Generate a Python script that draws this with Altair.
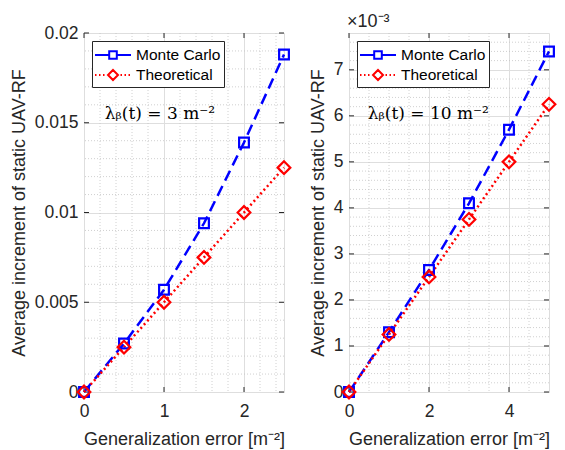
import altair as alt
import pandas as pd

series_names = ["Monte Carlo", "Theoretical"]
series_colors = ["#0000ff", "#ff0000"]

# Left panel: lambda = 3 m^-2
x_left = [0, 0.5, 1, 1.5, 2, 2.5]
mc_left = [0, 0.0027, 0.0057, 0.0094, 0.0139, 0.0188]
th_left = [0, 0.0025, 0.005, 0.0075, 0.01, 0.0125]

# Right panel: lambda = 10 m^-2
x_right = [0, 1, 2, 3, 4, 5]
mc_right = [0, 0.0013, 0.00265, 0.0041, 0.0057, 0.0074]
th_right = [0, 0.00125, 0.0025, 0.00375, 0.005, 0.00625]

left_x_ticks = [0, 1, 2]
left_y_ticks = [0, 0.005, 0.01, 0.015, 0.02]
right_x_ticks = [0, 2, 4]
right_y_ticks = [0, 0.001, 0.002, 0.003, 0.004, 0.005, 0.006, 0.007]

left_domain_x = [0, 2.5]
left_domain_y = [0, 0.02]
right_domain_x = [0, 5]
right_domain_y = [0, 0.0078]

left_note = "λᵦ(t) = 3 m⁻²"
right_note = "λᵦ(t) = 10 m⁻²"
left_note_pos = (0.26, 0.0155)
right_note_pos = (0.47, 0.00603)

x_title = "Generalization error [m⁻²]"
y_title = "Average increment of static UAV-RF"

W, H = 200, 359
FONT = "Liberation Sans"
TXT = "#262626"
FS = 17.5
TFS = 18

MC_PATH = "M-1.1,0H0.32M1.08,0H2.5M0.32,-0.38H1.08V0.38H0.32Z"
TH_PATH = ("M-1.1,0h0.15M-0.7,0h0.15M-0.3,0h0.15"
           "M1.45,0h0.15M1.85,0h0.15M2.25,0h0.15"
           "M0.7,-0.5L1.2,0L0.7,0.5L0.2,0Z")


def minor_vals(step, top, majors):
    n = int(round(top / step))
    vals = [round(i * step, 8) for i in range(1, n + 1)]
    return [v for v in vals if all(abs(v - m) > 1e-9 for m in majors) and v < top - 1e-9]


def panel(xs, mc, th, dom_x, dom_y, xt, yt, xstep, ystep, note, note_pos, scale_exp, title_text):
    df = pd.DataFrame({
        "x": xs + xs,
        "y": mc + th,
        "series": [series_names[0]] * len(xs) + [series_names[1]] * len(xs),
    })
    xscale = alt.Scale(domain=dom_x, nice=False, zero=False)
    yscale = alt.Scale(domain=dom_y, nice=False, zero=False)
    color_scale = alt.Scale(domain=series_names, range=series_colors)

    label_expr = "format(datum.value*1000, '~g')" if scale_exp else "format(datum.value, '~g')"

    xaxis = alt.Axis(values=xt, title=x_title, grid=True, gridColor="#dedede", ticks=False,
                     domain=False, labelFontSize=FS, titleFontSize=TFS, labelFont=FONT, titleFont=FONT,
                     labelColor=TXT, titleColor=TXT, labelPadding=10, titlePadding=11,
                     titleFontWeight="normal", labelFlush=False,
                     labelExpr="format(datum.value, '~g')")
    yaxis = alt.Axis(values=yt, title=y_title, grid=True, gridColor="#dedede", ticks=False,
                     domain=False, labelFontSize=FS, titleFontSize=TFS, labelFont=FONT, titleFont=FONT,
                     labelColor=TXT, titleColor=TXT, labelPadding=6, titlePadding=6,
                     titleFontWeight="normal", labelExpr=label_expr, labelFlush=False)

    xminor = pd.DataFrame({"v": minor_vals(xstep, dom_x[1], xt)})
    yminor = pd.DataFrame({"v": minor_vals(ystep, dom_y[1], yt)})

    gx = alt.Chart(xminor).mark_rule(color="#c4c4c4", strokeDash=[1, 2], strokeWidth=0.8).encode(
        x=alt.X("v:Q", scale=xscale, axis=xaxis))
    gy = alt.Chart(yminor).mark_rule(color="#c4c4c4", strokeDash=[1, 2], strokeWidth=0.8).encode(
        y=alt.Y("v:Q", scale=yscale, axis=yaxis))

    xmaj = pd.DataFrame({"v": xt})
    ymaj = pd.DataFrame({"v": yt})
    tick_b = alt.Chart(xmaj).mark_rule(color=TXT, strokeWidth=1).encode(
        x=alt.X("v:Q", scale=xscale), y=alt.value(H), y2=alt.value(H - 5))
    tick_t = alt.Chart(xmaj).mark_rule(color=TXT, strokeWidth=1).encode(
        x=alt.X("v:Q", scale=xscale), y=alt.value(0), y2=alt.value(5))
    tick_l = alt.Chart(ymaj).mark_rule(color=TXT, strokeWidth=1).encode(
        y=alt.Y("v:Q", scale=yscale), x=alt.value(0), x2=alt.value(5))
    tick_r = alt.Chart(ymaj).mark_rule(color=TXT, strokeWidth=1).encode(
        y=alt.Y("v:Q", scale=yscale), x=alt.value(W), x2=alt.value(W - 5))

    legend = alt.Legend(
        title=None, orient="top-left", offset=8, fillColor="white", strokeColor=TXT,
        padding=3, labelFontSize=15.5, labelFont=FONT, labelColor="#000000",
        symbolSize=400, symbolStrokeWidth=2, labelOffset=19, rowPadding=0,
        symbolFillColor="white",
    )

    mc_df = df[df["series"] == series_names[0]]
    th_df = df[df["series"] == series_names[1]]

    mc_line = alt.Chart(mc_df).mark_line(strokeWidth=2.5, clip=False, color=series_colors[0],
                                         strokeDash=[11, 6]).encode(
        x=alt.X("x:Q", scale=xscale), y=alt.Y("y:Q", scale=yscale))
    th_line = alt.Chart(th_df).mark_line(strokeWidth=2.5, clip=False, color=series_colors[1],
                                         strokeDash=[2, 3]).encode(
        x=alt.X("x:Q", scale=xscale), y=alt.Y("y:Q", scale=yscale))
    squares = alt.Chart(mc_df).mark_point(
        filled=False, strokeWidth=2.2, clip=False, opacity=1, shape="square", size=95,
        color=series_colors[0]).encode(
        x=alt.X("x:Q", scale=xscale), y=alt.Y("y:Q", scale=yscale))
    diamonds = alt.Chart(th_df).mark_point(
        filled=False, strokeWidth=2.2, clip=False, opacity=1, shape="diamond", size=160,
        color=series_colors[1]).encode(
        x=alt.X("x:Q", scale=xscale), y=alt.Y("y:Q", scale=yscale))
    leg_layer = alt.Chart(df).transform_filter("false").mark_point(
        filled=False, strokeWidth=2, opacity=1).encode(
        x=alt.X("x:Q", scale=xscale),
        y=alt.Y("y:Q", scale=yscale),
        color=alt.Color("series:N", scale=color_scale, legend=legend),
        shape=alt.Shape("series:N", scale=alt.Scale(domain=series_names, range=[MC_PATH, TH_PATH]),
                        legend=legend),
    )
    ndf = pd.DataFrame({"x": [note_pos[0]], "y": [note_pos[1]], "t": [note]})
    text = alt.Chart(ndf).mark_text(align="left", baseline="middle", font="DejaVu Serif",
                                    fontSize=17, color="#000000").encode(
        x=alt.X("x:Q", scale=xscale), y=alt.Y("y:Q", scale=yscale), text="t:N")

    layered = alt.layer(gx, gy, tick_b, tick_t, tick_l, tick_r, mc_line, th_line, squares, diamonds,
                        leg_layer, text).properties(
        width=W, height=H,
        title=alt.TitleParams(title_text, anchor="start", fontSize=TFS, font=FONT, color=TXT,
                              fontWeight="normal", offset=2, frame="group", dx=-2),
    )
    return layered


left = panel(x_left, mc_left, th_left, left_domain_x, left_domain_y, left_x_ticks, left_y_ticks,
             0.2, 0.001, left_note, left_note_pos, False, " ")
right = panel(x_right, mc_right, th_right, right_domain_x, right_domain_y, right_x_ticks, right_y_ticks,
              0.5, 0.0002, right_note, right_note_pos, True, "×10⁻³")

chart = alt.hconcat(left, right, spacing=12).resolve_legend(
    color="independent", shape="independent").resolve_scale(
    color="independent", shape="independent").configure_view(
    stroke=TXT, strokeWidth=1).configure(
    padding={"left": 9, "top": 3, "right": 0, "bottom": 0}, background="white")

chart.save("out.html", embed_options={"renderer": "svg", "actions": False})
